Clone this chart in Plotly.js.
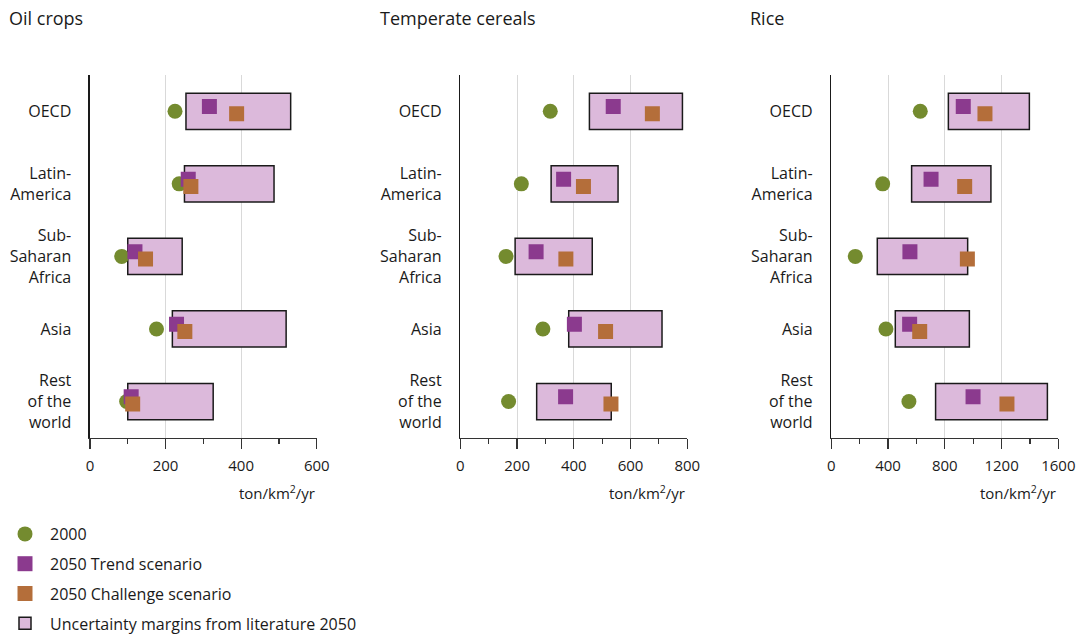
<!DOCTYPE html>
<html>
<head>
<meta charset="utf-8">
<script src="https://cdn.plot.ly/plotly-3.0.1.min.js"></script>
<style>html,body{margin:0;padding:0;background:#fff;}#chart{width:1084px;height:641px;}</style>
</head>
<body>
<div id="chart"></div>
<script>
// ---- data ----
const regions = ['OECD', 'Latin-<br>America', 'Sub-<br>Saharan<br>Africa', 'Asia', 'Rest<br>of the<br>world'];
const rowPos = [5, 4, 3, 2, 1];
const panelTitles = ['Oil crops', 'Temperate cereals', 'Rice'];
const unitLabel = 'ton/km<sup>2</sup>/yr';
const seriesNames = ['2000', '2050 Trend scenario', '2050 Challenge scenario', 'Uncertainty margins from literature 2050'];

const oil2000      = [225, 236,  84, 176,  97];
const oilTrend     = [316, 260, 119, 229, 109];
const oilChallenge = [388, 267, 147, 251, 113];
const oilLow       = [254, 250, 100, 218, 100];
const oilHigh      = [531, 487, 244, 519, 326];

const cer2000      = [317, 215, 161, 291, 170];
const cerTrend     = [539, 364, 267, 402, 371];
const cerChallenge = [677, 434, 372, 512, 531];
const cerLow       = [455, 320, 193, 382, 269];
const cerHigh      = [783, 556, 465, 711, 532];

const rice2000      = [627, 362, 169, 385, 547];
const riceTrend     = [930, 703, 554, 552, 999];
const riceChallenge = [1083, 940, 959, 623, 1238];
const riceLow       = [825, 566, 324, 451, 735];
const riceHigh      = [1396, 1125, 961, 973, 1523];

const xRanges = [[0, 600], [0, 800], [0, 1600]];
const xTickStep = [200, 200, 400];
const xMinorStep = [100, 100, 200];

// ---- styling ----
const FONT = 'Open Sans, Lato, sans-serif';
const C2000 = '#748b2f', CTREND = '#8b3a8e', CCHAL = '#b46e3a', CBOX = '#dcb9db';
const xDomains = [[0.0830, 0.2922], [0.4247, 0.6340], [0.7669, 0.9763]];
const yDomain = [0.317, 0.883];

const panels = [
  {v0: oil2000, tr: oilTrend, ch: oilChallenge, lo: oilLow, hi: oilHigh},
  {v0: cer2000, tr: cerTrend, ch: cerChallenge, lo: cerLow, hi: cerHigh},
  {v0: rice2000, tr: riceTrend, ch: riceChallenge, lo: riceLow, hi: riceHigh}
];

const traces = [];
const layout = {
  width: 1084, height: 641,
  margin: {l: 0, r: 0, t: 0, b: 0},
  paper_bgcolor: '#fff', plot_bgcolor: '#fff',
  font: {family: FONT, size: 15, color: '#1a1a1a'},
  showlegend: true,
  legend: {
    x: 0, y: 0, xanchor: 'left', yanchor: 'bottom',
    font: {family: FONT, size: 16, color: '#1a1a1a'},
    traceorder: 'grouped', tracegroupgap: 6, itemwidth: 40,
    bgcolor: 'rgba(0,0,0,0)'
  },
  annotations: [],
  hovermode: false
};

panels.forEach((p, i) => {
  const sfx = i === 0 ? '' : String(i + 1);
  const xa = 'x' + sfx, ya = 'y' + sfx;
  const show = i === 0;
  traces.push({
    type: 'bar', orientation: 'h', xaxis: xa, yaxis: ya,
    y: rowPos, base: p.lo, x: p.hi.map((h, k) => h - p.lo[k]), width: 0.5,
    marker: {color: CBOX, line: {color: '#1a1a1a', width: 1.5}},
    name: seriesNames[3], legendgroup: 'g4', legendrank: 4, showlegend: show
  });
  traces.push({
    type: 'scatter', mode: 'markers', xaxis: xa, yaxis: ya,
    x: p.v0, y: rowPos,
    marker: {symbol: 'circle', size: 15, color: C2000},
    name: seriesNames[0], legendgroup: 'g1', legendrank: 1, showlegend: show
  });
  traces.push({
    type: 'scatter', mode: 'markers', xaxis: xa, yaxis: ya,
    x: p.tr, y: rowPos.map(v => v + 0.065),
    marker: {symbol: 'square', size: 15, color: CTREND},
    name: seriesNames[1], legendgroup: 'g2', legendrank: 2, showlegend: show
  });
  traces.push({
    type: 'scatter', mode: 'markers', xaxis: xa, yaxis: ya,
    x: p.ch, y: rowPos.map(v => v - 0.035),
    marker: {symbol: 'square', size: 15, color: CCHAL},
    name: seriesNames[2], legendgroup: 'g3', legendrank: 3, showlegend: show
  });

  layout['xaxis' + sfx] = {
    domain: xDomains[i], anchor: ya, range: xRanges[i], fixedrange: true,
    tickmode: 'linear', tick0: 0, dtick: xTickStep[i],
    ticks: 'outside', ticklen: 10, tickwidth: 1.2, tickcolor: '#333',
    minor: {tickmode: 'linear', tick0: 0, dtick: xMinorStep[i], ticks: 'outside', ticklen: 5, tickwidth: 1.2, tickcolor: '#333', showgrid: false},
    showgrid: true, gridcolor: '#d9d9d9', gridwidth: 1,
    zeroline: false, showline: true, linecolor: '#333', linewidth: 1.5,
    tickfont: {family: FONT, size: 15, color: '#1a1a1a'}, ticklabelstandoff: 4
  };
  layout['yaxis' + sfx] = {
    domain: yDomain, anchor: xa, range: [0.5, 5.5], fixedrange: true,
    tickmode: 'array', tickvals: rowPos, ticktext: regions,
    ticks: '', showgrid: false, zeroline: false,
    showline: true, linecolor: '#1a1a1a', linewidth: 1.5,
    tickfont: {family: FONT, size: 16, color: '#1a1a1a'}, ticklabelstandoff: 14
  };
  layout.annotations.push({
    xref: 'paper', yref: 'paper', x: [7, 378, 748][i] / 1084, y: 1 - 18 / 641,
    xanchor: 'left', yanchor: 'middle', showarrow: false,
    text: panelTitles[i], font: {family: FONT, size: 18, color: '#1a1a1a'}
  });
  layout.annotations.push({
    xref: xa + ' domain', yref: 'paper', x: 1, y: 1 - 492 / 641,
    xanchor: 'right', yanchor: 'middle', showarrow: false,
    text: unitLabel, font: {family: FONT, size: 15, color: '#1a1a1a'}
  });
});

Plotly.newPlot('chart', traces, layout, {displayModeBar: false, staticPlot: true});
</script>
</body>
</html>
